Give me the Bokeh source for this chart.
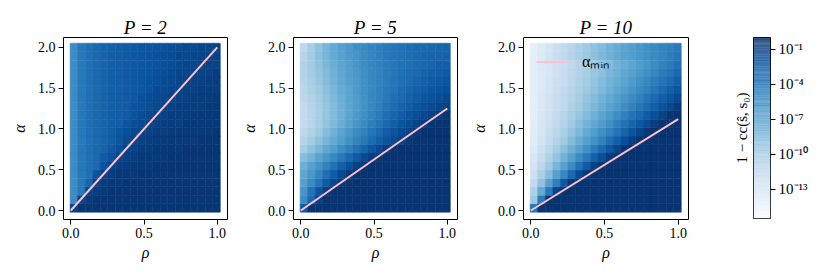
from bokeh.plotting import figure
from bokeh.layouts import row
from bokeh.models import (Range1d, FixedTicker, PrintfTickFormatter, LogColorMapper,
                          Legend, LegendItem, LinearAxis, ColumnDataSource)
from bokeh.palettes import Blues256
from bokeh.embed import file_html
from bokeh.resources import INLINE

FONT = "Liberation Serif"

# ---------------- data ----------------
P_VALUES = [2, 5, 10]
ALPHA_MIN_AT_RHO1 = [2.0, 1.25, 1.12]   # alpha_min line end value at rho = 1
LINE_RHO = [0.0, 1.0]

# grid of sample positions (cell centres)
RHO = [0.021, 0.072, 0.124, 0.175, 0.226, 0.277, 0.329, 0.380, 0.431, 0.482,
       0.534, 0.585, 0.636, 0.687, 0.739, 0.790, 0.841, 0.892, 0.944, 0.995]
ALPHA = [0.032, 0.135, 0.239, 0.342, 0.446, 0.549, 0.653, 0.756, 0.860, 0.963,
         1.067, 1.170, 1.274, 1.377, 1.481, 1.584, 1.688, 1.791, 1.895, 1.998]

# log10(1 - cc(s_hat, s0)); one row per alpha (ascending), one column per rho
LOGERR_P2 = [
    [-1.1] + [-0.4] * 19,
    [-5.5, -1.1, -0.6] + [-0.4] * 17,
    [-5.5, -4.3, -1.1, -0.8, -0.6] + [-0.4] * 15,
    [-5.5, -4.3, -3.2, -1.1, -0.8, -0.6, -0.6] + [-0.4] * 13,
    [-5.5, -4.3, -3.8, -2.3, -1.1, -0.8, -0.6, -0.6, -0.6] + [-0.4] * 11,
    [-5.5, -4.3, -3.8, -3.4, -2.1, -1.1, -0.9, -0.8, -0.6, -0.6, -0.6] + [-0.4] * 9,
    [-5.5, -4.3, -3.8, -3.4, -2.6, -2.0, -1.1, -1.0, -0.8, -0.6, -0.6, -0.6, -0.6] + [-0.4] * 7,
    [-5.5, -4.3, -3.8, -3.4, -3.1, -2.5, -1.9, -1.1, -1.0, -0.8, -0.8, -0.6, -0.6, -0.6, -0.6] + [-0.4] * 5,
    [-5.5, -4.3, -3.8, -3.4, -3.1, -2.9, -2.3, -1.5, -1.1, -1.0, -0.8, -0.8, -0.6, -0.6, -0.6, -0.6, -0.6, -0.4, -0.4, -0.4],
    [-5.5, -4.3, -3.8, -3.4, -3.1, -2.9, -2.3, -1.9, -1.5, -1.1, -1.0, -0.8, -0.8, -0.7, -0.6, -0.6, -0.6, -0.6, -0.6, -0.4],
    [-5.5, -4.3, -3.8, -3.4, -3.1, -2.9, -2.7, -2.2, -1.8, -1.5, -1.1, -1.0, -0.8, -0.8, -0.8, -0.6, -0.6, -0.6, -0.6, -0.6],
    [-5.5, -4.3, -3.8, -3.4, -3.1, -2.9, -2.7, -2.6, -2.1, -1.7, -1.4, -1.1, -1.0, -0.9, -0.8, -0.8, -0.7, -0.6, -0.6, -0.6],
    [-5.5, -4.3, -3.8, -3.4, -3.1, -2.9, -2.7, -2.6, -2.1, -2.0, -1.7, -1.4, -1.1, -1.0, -0.9, -0.8, -0.8, -0.8, -0.6, -0.6],
    [-5.5, -4.3, -3.8, -3.4, -3.1, -2.9, -2.7, -2.6, -2.4, -2.0, -1.7, -1.6, -1.4, -1.1, -1.0, -1.0, -0.8, -0.8, -0.8, -0.6],
    [-5.5, -4.3, -3.8, -3.4, -3.1, -2.9, -2.7, -2.6, -2.4, -2.3, -2.0, -1.6, -1.6, -1.3, -1.1, -1.0, -1.0, -0.8, -0.8, -0.8],
    [-5.5, -4.3, -3.8, -3.4, -3.1, -2.9, -2.7, -2.6, -2.4, -2.3, -2.0, -1.9, -1.6, -1.5, -1.3, -1.1, -1.0, -1.0, -0.9, -0.8],
    [-5.5, -4.3, -3.8, -3.4, -3.1, -2.9, -2.7, -2.6, -2.4, -2.3, -2.2, -1.9, -1.8, -1.5, -1.3, -1.3, -1.1, -1.0, -1.0, -0.9],
    [-5.5, -4.3, -3.8, -3.4, -3.1, -2.9, -2.7, -2.6, -2.4, -2.3, -2.2, -2.1, -1.8, -1.7, -1.5, -1.3, -1.3, -1.1, -1.0, -1.0],
    [-5.5, -4.3, -3.8, -3.4, -3.1, -2.9, -2.7, -2.6, -2.4, -2.3, -2.2, -2.1, -1.8, -1.7, -1.5, -1.5, -1.3, -1.3, -1.1, -1.0],
    [-5.5, -4.3, -3.8, -3.4, -3.1, -2.9, -2.7, -2.6, -2.4, -2.3, -2.2, -2.1, -2.0, -1.7, -1.7, -1.5, -1.4, -1.3, -1.3, -1.1],
]

LOGERR_P5 = [
    [-2.5] + [-0.3] * 19,
    [-5.5, -3.5, -1.0] + [-0.3] * 17,
    [-6.0, -4.0, -2.2, -0.8] + [-0.3] * 16,
    [-6.8, -5.4, -4.0, -2.6, -1.3, -0.5] + [-0.3] * 14,
    [-7.2, -6.2, -5.0, -3.8, -2.6, -1.5, -0.6] + [-0.3] * 13,
    [-7.8, -6.9, -5.9, -4.9, -3.9, -2.9, -1.9, -1.0, -0.4] + [-0.3] * 11,
    [-8.8, -8.0, -7.0, -6.1, -5.2, -4.3, -3.4, -2.5, -1.6, -0.9, -0.4] + [-0.3] * 9,
    [-10.0, -9.1, -8.2, -7.3, -6.5, -5.6, -4.8, -4.0, -3.2, -2.4, -1.6, -0.9, -0.4] + [-0.3] * 7,
    [-10.8, -9.9, -9.0, -8.2, -7.4, -6.6, -5.8, -5.0, -4.3, -3.6, -2.9, -2.2, -1.6, -1.0, -0.5] + [-0.3] * 5,
    [-11.3, -10.6, -9.7, -8.8, -7.9, -7.0, -6.2, -5.5, -4.8, -4.1, -3.4, -2.7, -2.1, -1.5, -1.0, -0.6] + [-0.3] * 4,
    [-11.5, -10.9, -10.1, -9.3, -8.5, -7.7, -6.9, -6.1, -5.4, -4.7, -4.0, -3.4, -2.8, -2.2, -1.7, -1.2, -0.8, -0.4, -0.3, -0.3],
    [-11.5, -10.9, -10.2, -9.4, -8.6, -7.9, -7.1, -6.4, -5.7, -5.0, -4.4, -3.8, -3.2, -2.7, -2.2, -1.8, -1.4, -1.0, -0.7, -0.4],
    [-11.4, -10.8, -10.1, -9.4, -8.6, -7.9, -7.2, -6.5, -5.9, -5.3, -4.7, -4.1, -3.6, -3.1, -2.7, -2.3, -1.9, -1.6, -1.3, -1.0],
    [-11.2, -10.6, -9.9, -9.2, -8.5, -7.8, -7.1, -6.5, -5.9, -5.3, -4.8, -4.3, -3.8, -3.4, -3.0, -2.6, -2.3, -2.0, -1.7, -1.4],
    [-11.0, -10.4, -9.7, -9.0, -8.3, -7.6, -7.0, -6.4, -5.8, -5.3, -4.8, -4.4, -4.0, -3.6, -3.2, -2.9, -2.6, -2.3, -2.0, -1.8],
    [-10.8, -10.2, -9.5, -8.8, -8.1, -7.4, -6.8, -6.3, -5.8, -5.3, -4.9, -4.5, -4.1, -3.8, -3.5, -3.2, -2.9, -2.6, -2.4, -2.2],
    [-10.7, -10.0, -9.3, -8.6, -7.9, -7.3, -6.7, -6.2, -5.7, -5.3, -4.9, -4.5, -4.2, -3.9, -3.6, -3.4, -3.1, -2.9, -2.7, -2.5],
    [-10.6, -9.9, -9.1, -8.4, -7.7, -7.1, -6.6, -6.1, -5.6, -5.2, -4.8, -4.5, -4.2, -3.9, -3.7, -3.5, -3.3, -3.1, -2.9, -2.8],
    [-10.8, -9.9, -9.0, -8.2, -7.5, -6.9, -6.4, -6.0, -5.5, -5.1, -4.7, -4.4, -4.1, -3.9, -3.7, -3.5, -3.3, -3.2, -3.1, -3.0],
    [-11.2, -10.1, -9.1, -8.2, -7.5, -6.9, -6.3, -5.8, -5.4, -5.0, -4.7, -4.4, -4.1, -3.9, -3.7, -3.5, -3.4, -3.3, -3.2, -3.1],
]

LOGERR_P10 = [
    [-4.0] + [-0.3] * 19,
    [-9.6, -4.5] + [-0.3] * 18,
    [-10.5, -7.5, -4.4, -1.3] + [-0.3] * 16,
    [-11.4, -9.2, -6.9, -4.7, -2.4, -0.5] + [-0.3] * 14,
    [-12.2, -10.4, -8.7, -6.9, -5.2, -3.4, -1.7, -0.4] + [-0.3] * 12,
    [-12.6, -11.2, -9.7, -8.3, -6.8, -5.4, -3.9, -2.5, -1.0, -0.4] + [-0.3] * 10,
    [-13.0, -11.8, -10.5, -9.3, -8.0, -6.8, -5.5, -4.3, -3.0, -1.8, -0.6] + [-0.3] * 9,
    [-13.4, -12.3, -11.2, -10.0, -9.0, -7.9, -6.8, -5.7, -4.6, -3.5, -2.4, -1.3, -0.4] + [-0.3] * 7,
    [-13.6, -12.6, -11.6, -10.7, -9.7, -8.7, -7.7, -6.7, -5.8, -4.8, -3.8, -2.8, -1.8, -0.9, -0.4] + [-0.3] * 5,
    [-13.7, -12.9, -12.0, -11.1, -10.2, -9.3, -8.4, -7.5, -6.6, -5.7, -4.9, -4.0, -3.1, -2.2, -1.3, -0.5] + [-0.3] * 4,
    [-13.8, -13.0, -12.2, -11.4, -10.6, -9.7, -8.9, -8.1, -7.3, -6.5, -5.7, -4.8, -4.0, -3.2, -2.4, -1.6, -0.8, -0.3, -0.3, -0.3],
    [-13.9, -13.1, -12.4, -11.6, -10.9, -10.1, -9.4, -8.6, -7.9, -7.1, -6.4, -5.6, -4.9, -4.1, -3.4, -2.6, -1.9, -1.1, -0.4, -0.3],
    [-14.0, -13.3, -12.6, -11.9, -11.2, -10.5, -9.8, -9.1, -8.4, -7.7, -7.0, -6.3, -5.6, -4.9, -4.2, -3.5, -2.8, -2.1, -1.4, -0.7],
    [-13.9, -13.3, -12.6, -12.0, -11.3, -10.7, -10.0, -9.3, -8.7, -8.0, -7.4, -6.7, -6.1, -5.4, -4.8, -4.1, -3.4, -2.8, -2.1, -1.5],
    [-14.0, -13.4, -12.8, -12.2, -11.5, -10.9, -10.3, -9.7, -9.1, -8.5, -7.9, -7.2, -6.6, -6.0, -5.4, -4.8, -4.2, -3.5, -2.9, -2.3],
    [-14.0, -13.4, -12.8, -12.2, -11.7, -11.1, -10.5, -9.9, -9.3, -8.7, -8.1, -7.6, -7.0, -6.4, -5.8, -5.2, -4.6, -4.1, -3.5, -2.9],
    [-14.0, -13.4, -12.9, -12.3, -11.8, -11.2, -10.6, -10.1, -9.5, -9.0, -8.4, -7.9, -7.3, -6.8, -6.2, -5.7, -5.1, -4.5, -4.0, -3.4],
    [-14.0, -13.4, -12.9, -12.4, -11.9, -11.3, -10.8, -10.3, -9.7, -9.2, -8.7, -8.1, -7.6, -7.1, -6.5, -6.0, -5.5, -4.9, -4.4, -3.9],
    [-14.1, -13.4, -12.7, -12.0, -11.4, -10.8, -10.2, -9.6, -9.0, -8.5, -8.0, -7.5, -7.0, -6.6, -6.2, -5.8, -5.4, -5.0, -4.6, -4.2],
    [-14.1, -13.5, -12.8, -12.1, -11.5, -10.9, -10.3, -9.7, -9.1, -8.6, -8.1, -7.6, -7.1, -6.6, -6.2, -5.8, -5.4, -5.0, -4.7, -4.4],
]

LOGERR = [LOGERR_P2, LOGERR_P5, LOGERR_P10]

X_TICKS = [0.0, 0.5, 1.0]
Y_TICKS = [0.0, 0.5, 1.0, 1.5, 2.0]
CBAR_EXP_TICKS = [-1, -4, -7, -10, -13]
CBAR_LABELS = ["10\u207b\u00b9", "10\u207b\u2074", "10\u207b\u2077", "10\u207b\u00b9\u2070", "10\u207b\u00b9\u00b3"]
CBAR_LOW_EXP, CBAR_HIGH_EXP = -15.5, 0.0

# ---------------- style / layout ----------------
CELL_W = 0.05125
CELL_H = 0.1035
FRAME_W = [164, 164, 165]
BORDER_LEFT = [63, 56, 56]
BORDER_RIGHT = 10
FRAME_H = 182
BORDER_T, BORDER_B = 37, 52

pal = list(Blues256)
if int(pal[0][1:3], 16) < int(pal[-1][1:3], 16):
    pal = pal[::-1]          # light first -> low values light
mapper = LogColorMapper(palette=pal, low=10 ** CBAR_LOW_EXP, high=10 ** CBAR_HIGH_EXP)


def style_axes(p):
    for ax in (p.xaxis[0], p.yaxis[0]):
        ax.axis_line_color = None
        ax.major_tick_line_color = "black"
        ax.major_tick_out = 5
        ax.major_tick_in = 0
        ax.minor_tick_line_color = None
        ax.major_label_text_font = FONT
        ax.major_label_text_font_size = "14px"
        ax.major_label_text_color = "black"
        ax.axis_label_text_font = FONT
        ax.axis_label_text_font_size = "16px"
        ax.axis_label_text_color = "black"
        ax.axis_label_text_font_style = "italic"
        ax.major_label_standoff = 3
    p.xaxis[0].axis_label_standoff = 3
    p.yaxis[0].axis_label_standoff = 7


panels = []
for k, P in enumerate(P_VALUES):
    p = figure(frame_width=FRAME_W[k], frame_height=FRAME_H,
               output_backend="svg", toolbar_location=None,
               x_range=Range1d(-0.05, 1.07), y_range=Range1d(-0.11, 2.12),
               min_border_left=BORDER_LEFT[k], min_border_right=BORDER_RIGHT,
               min_border_top=BORDER_T, min_border_bottom=BORDER_B)
    p.grid.visible = False
    p.outline_line_color = "black"
    p.outline_line_width = 1
    p.background_fill_color = "white"
    p.border_fill_color = "white"

    xs, ys, vs = [], [], []
    grid = LOGERR[k]
    for i, a in enumerate(ALPHA):
        for j, r in enumerate(RHO):
            xs.append(r)
            ys.append(a)
            vs.append(10 ** grid[i][j])
    src = ColumnDataSource(dict(x=xs, y=ys, v=vs))
    p.rect(x="x", y="y", width=CELL_W, height=CELL_H, source=src,
           fill_color={"field": "v", "transform": mapper},
           line_color={"field": "v", "transform": mapper}, line_width=0.6)

    ln = p.line(LINE_RHO, [0.0, ALPHA_MIN_AT_RHO1[k]], line_color="pink", line_width=2)

    p.xaxis.ticker = FixedTicker(ticks=X_TICKS)
    p.yaxis.ticker = FixedTicker(ticks=Y_TICKS)
    p.xaxis.formatter = PrintfTickFormatter(format="%.1f")
    p.yaxis.formatter = PrintfTickFormatter(format="%.1f")
    p.xaxis.axis_label = "\u03c1"
    p.yaxis.axis_label = "\u03b1"
    style_axes(p)

    p.title.text = f"P = {P}"
    p.title.align = "center"
    p.title.text_font = FONT
    p.title.text_font_size = "19px"
    p.title.text_font_style = "italic"
    p.title.text_color = "black"
    p.title.standoff = 0

    if k == 2:
        leg = Legend(items=[LegendItem(label="\u03b1\u2098\u1d62\u2099", renderers=[ln])],
                     location="top_left")
        leg.background_fill_alpha = 0
        leg.border_line_alpha = 0
        leg.glyph_width = 33
        leg.glyph_height = 13
        leg.label_height = 13
        leg.label_standoff = 13
        leg.padding = 8
        leg.margin = 5
        leg.label_text_font = FONT
        leg.label_text_font_size = "16px"
        leg.label_text_color = "black"
        p.add_layout(leg)
    panels.append(p)

# ---------------- colour bar ----------------
cb = figure(frame_width=17, frame_height=181, output_backend="svg", toolbar_location=None,
            x_range=Range1d(0, 1), y_range=Range1d(CBAR_LOW_EXP, CBAR_HIGH_EXP),
            x_axis_location=None, y_axis_location="right",
            min_border_left=55, min_border_right=50,
            min_border_top=BORDER_T, min_border_bottom=BORDER_B + 1)
cb.grid.visible = False
cb.outline_line_color = "black"
cb.outline_line_width = 1
n = len(pal)
step = (CBAR_HIGH_EXP - CBAR_LOW_EXP) / n
cb.rect(x=[0.5] * n, y=[CBAR_LOW_EXP + (i + 0.5) * step for i in range(n)],
        width=1.0, height=step * 1.02, fill_color=pal, line_color=None)
ya = cb.yaxis[0]
ya.ticker = FixedTicker(ticks=CBAR_EXP_TICKS)
ya.major_label_overrides = {t: lab for t, lab in zip(CBAR_EXP_TICKS, CBAR_LABELS)}
ya.axis_line_color = None
ya.major_tick_line_color = "black"
ya.major_tick_out = 5
ya.major_tick_in = 0
ya.minor_tick_line_color = None
ya.major_label_text_font = FONT
ya.major_label_text_font_size = "15px"
ya.major_label_text_color = "black"
ya.major_label_standoff = 3

lab_ax = LinearAxis(ticker=FixedTicker(ticks=[]), axis_label="1 \u2212 cc(\u015d, s\u2080)")
lab_ax.axis_line_color = None
lab_ax.major_tick_line_color = None
lab_ax.minor_tick_line_color = None
lab_ax.major_label_standoff = 0
lab_ax.axis_label_standoff = 4
lab_ax.axis_label_text_font = FONT
lab_ax.axis_label_text_font_size = "15px"
lab_ax.axis_label_text_font_style = "normal"
lab_ax.axis_label_text_color = "black"
cb.add_layout(lab_ax, "left")

layout = row(*panels, cb)
open("out.html", "w").write(file_html(layout, INLINE))
